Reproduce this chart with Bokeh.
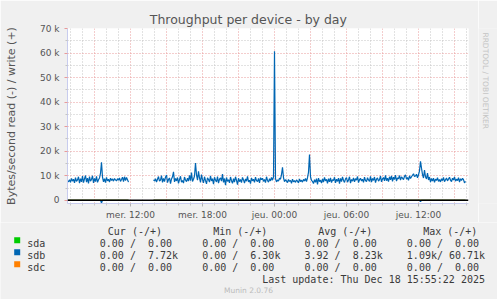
import math
from bokeh.plotting import figure
from bokeh.layouts import column, row
from bokeh.models import Range1d, FixedTicker, Span
from bokeh.core.properties import value
from bokeh.embed import file_html
from bokeh.resources import INLINE

# ---------------- data ----------------
title_text = "Throughput per device - by day"
y_label_text = "Bytes/second read (-) / write (+)"

x_tick_hours = [12, 18, 24, 30, 36]            # hours since Wed 00:00
x_tick_labels = ["mer. 12:00", "mer. 18:00", "jeu. 00:00", "jeu. 06:00", "jeu. 12:00"]
y_ticks = [0, 10, 20, 30, 40, 50, 60, 70]      # k bytes/s
y_tick_labels = ["0", "10 k", "20 k", "30 k", "40 k", "50 k", "60 k", "70 k"]

step_h = 5 / 60                 # 5-minute samples
seg_a_start = 6.75              # mer. 06:45
seg_b_start = 13 + 55 / 60      # mer. 13:55 (after a gap)

# sdb write, k bytes/s
sdb_write_a = [
    7.9, 7.6, 8.4, 7.3, 8.9, 7.8, 8.6, 7.1, 9.2, 7.7,
    8.3, 9.6, 7.0, 8.8, 7.5, 9.9, 7.2, 8.7, 10.1, 7.4,
    9.0, 6.9, 9.7, 7.8, 8.5, 10.0, 7.1, 8.9, 7.6, 9.8,
    7.3, 8.4, 9.1, 11.0, 15.5, 9.4, 7.5, 8.8, 7.2, 9.3,
    7.9, 8.6, 7.4, 9.0, 8.1, 8.7, 7.8, 8.9, 8.3, 7.9,
    8.8, 8.2, 9.1, 7.7, 8.5, 9.4, 7.6, 9.6, 8.0, 9.3,
    8.4, 7.4,
]
sdb_write_b = [
    8.3, 7.9, 8.8, 7.4, 8.6, 9.7, 7.8, 8.2, 10.1, 7.3,
    8.9, 7.6, 9.4, 10.3, 7.2, 8.5, 9.1, 6.8, 8.7, 9.6,
    11.6, 7.5, 8.9, 7.9, 9.3, 6.9, 8.4, 9.8, 7.4, 8.1,
    7.0, 9.5, 8.3, 7.6, 9.0, 7.8, 10.2, 8.0, 11.3, 7.7,
    8.6, 9.9, 15.2, 10.4, 8.2, 11.8, 9.1, 7.3, 10.5, 8.4,
    7.1, 9.6, 8.0, 6.7, 9.2, 8.5, 7.4, 10.0, 7.9, 8.8,
    6.6, 9.4, 8.2, 7.5, 9.7, 7.0, 8.6, 9.1, 7.8, 10.7,
    7.3, 8.9, 6.2, 9.3, 7.7, 8.4, 7.1, 9.5, 8.0, 6.9,
    8.8, 7.4, 9.6, 8.1, 6.4, 9.0, 7.6, 8.5, 7.2, 9.3,
    8.3, 7.0, 8.7, 7.8, 9.8, 7.5, 8.2, 6.8, 9.1, 7.9,
    8.6, 7.3, 9.4, 8.0, 7.6, 8.9, 7.1, 9.2, 8.4, 9.0,
    7.7, 8.5, 7.2, 9.6, 8.1, 7.4, 8.8, 7.9, 9.3, 8.2,
    9.5, 60.71, 8.8, 7.5, 8.3, 7.8, 9.0, 8.6, 10.5, 13.4,
    9.2, 7.6, 8.4, 7.9, 7.2, 8.5, 7.7, 8.1, 6.9, 8.6,
    7.5, 8.0, 7.3, 8.3, 7.8, 7.1, 8.7, 7.6, 8.2, 7.4,
    8.5, 7.9, 8.9, 7.6, 9.2, 11.4, 18.7, 9.6, 8.1, 7.7,
    6.8, 8.4, 7.3, 8.8, 6.5, 9.0, 7.6, 8.2, 7.0, 8.7,
    7.4, 9.3, 7.9, 8.5, 6.9, 8.8, 7.5, 9.1, 7.2, 8.4,
    8.0, 9.4, 7.1, 8.6, 7.7, 9.0, 6.8, 8.9, 7.6, 9.5,
    8.1, 7.3, 8.7, 9.2, 7.4, 8.3, 9.6, 7.0, 8.5, 7.8,
    9.1, 7.5, 8.8, 8.2, 9.7, 7.2, 8.4, 9.0, 7.9, 8.6,
    7.3, 9.4, 8.0, 7.6, 9.2, 8.3, 7.7, 9.8, 7.4, 8.9,
    8.1, 9.5, 7.2, 8.6, 9.1, 7.8, 8.4, 9.9, 7.5, 8.7,
    9.3, 7.9, 10.2, 8.0, 9.0, 7.6, 9.6, 8.3, 10.0, 7.7,
    9.4, 8.5, 10.3, 7.8, 9.1, 8.8, 10.1, 8.2, 9.5, 9.0,
    8.4, 9.8, 10.4, 8.6, 9.3, 8.1, 10.0, 8.9, 9.6, 10.2,
    10.8, 9.7, 9.9, 10.6, 9.2, 10.4, 12.0, 15.9, 13.1, 10.5,
    9.1, 12.3, 9.6, 8.7, 11.1, 8.3, 9.5, 7.4, 8.9, 7.8,
    9.0, 7.3, 8.6, 8.1, 9.2, 7.7, 8.5, 7.5, 8.8, 8.0,
    9.3, 7.6, 8.4, 9.1, 7.9, 8.7, 9.4, 8.2, 7.6, 9.0,
    8.3, 9.5, 7.8, 8.6, 8.0, 9.2, 7.4, 8.8, 8.1, 9.0,
    8.4, 7.1, 7.72,
]
# sdb read, k bytes/s (drawn below zero)
sdb_read_a = [0.0] * 34 + [1.09] + [0.0] * 27
sdb_read_b = [0.0] * 267 + [0.5] + [0.0] * 45
# sda / sdc: idle
sda_values_a = [0.0] * len(sdb_write_a)
sda_values_b = [0.0] * len(sdb_write_b)
sdc_values_a = [0.0] * len(sdb_write_a)
sdc_values_b = [0.0] * len(sdb_write_b)

legend_names = ["sda", "sdb", "sdc"]
legend_colors = ["#00CC00", "#0066B3", "#FF8000"]
legend_headers = ["Cur (-/+)", "Min (-/+)", "Avg (-/+)", "Max (-/+)"]
legend_rows = [
    "0.00 /  0.00     0.00 /  0.00     0.00 /  0.00     0.00 /  0.00",
    "0.00 /  7.72k    0.00 /  6.30k    3.92 /  8.23k    1.09k/ 60.71k",
    "0.00 /  0.00     0.00 /  0.00     0.00 /  0.00     0.00 /  0.00",
]
last_update = "Last update: Thu Dec 18 15:55:22 2025"
munin_version = "Munin 2.0.76"
rrd_credit = "RRDTOOL / TOBI OETIKER"

# ---------------- build series ----------------
nan = float("nan")
t_a = [seg_a_start + i * step_h for i in range(len(sdb_write_a))]
t_b = [seg_b_start + i * step_h for i in range(len(sdb_write_b))]
ts = t_a + [nan] + t_b
sdb_w = sdb_write_a + [nan] + sdb_write_b
sdb_r = [-v for v in sdb_read_a] + [nan] + [-v for v in sdb_read_b]
sda_v = sda_values_a + [nan] + sda_values_b
sdc_v = sdc_values_a + [nan] + sdc_values_b


def keep_spaces(s):
    # SVG collapses runs of spaces; non-breaking spaces keep the monospace columns
    return s.replace(" ", "\u00a0")


# ---------------- layout constants ----------------
W, H = 497, 299
MAIN_W, MAIN_H = 478, 222
FL, FT, FR, FB = 67, 28, 468, 203   # frame edges in canvas px
BG = "#F0F0F0"
AXC = "#C8CCEE"
GRIDMAJ = "#E89A9A"
GRIDMIN = "#C4C4C4"
TXT = "#555555"
LEG = "#3A3A3A"

# ---------------- main figure ----------------
p = figure(width=MAIN_W, height=MAIN_H, output_backend="svg", toolbar_location=None,
           x_range=Range1d(seg_a_start, seg_a_start + (FR - FL) / 12.0),
           y_range=Range1d(-1.3, 70))
p.min_border_left = FL
p.min_border_right = MAIN_W - FR
p.min_border_top = FT
p.min_border_bottom = MAIN_H - FB
p.border_fill_color = BG
p.background_fill_color = "#FFFFFF"
p.outline_line_color = None

p.title.text = title_text
p.title.align = "left"
p.title.offset = 149.3 - FL
p.title.text_font = "DejaVu Sans"
p.title.text_font_size = "12.5px"
p.title.text_font_style = "normal"
p.title.text_color = TXT
p.title.standoff = 3

# x axis
p.xaxis.ticker = FixedTicker(ticks=x_tick_hours,
                             minor_ticks=[h for h in range(7, 41) if h not in x_tick_hours])
p.xaxis.major_label_overrides = {h: l for h, l in zip(x_tick_hours, x_tick_labels)}
p.xaxis.axis_line_color = AXC
p.xaxis.major_tick_out = 3
p.xaxis.major_tick_in = 0
p.xaxis.minor_tick_out = 2
p.xaxis.minor_tick_in = 0
p.xaxis.major_tick_line_color = "#B0B0B0"
p.xaxis.minor_tick_line_color = "#C8C8C8"
p.xaxis.major_label_standoff = 3
p.xaxis.major_label_text_font = "DejaVu Sans"
p.xaxis.major_label_text_font_size = "9px"
p.xaxis.major_label_text_color = TXT

# y axis
p.yaxis.ticker = FixedTicker(ticks=y_ticks, minor_ticks=[5, 15, 25, 35, 45, 55, 65])
p.yaxis.major_label_overrides = {v: l for v, l in zip(y_ticks, y_tick_labels)}
p.yaxis.axis_line_color = AXC
p.yaxis.major_tick_out = 3
p.yaxis.major_tick_in = 0
p.yaxis.minor_tick_out = 2
p.yaxis.minor_tick_in = 0
p.yaxis.major_tick_line_color = GRIDMAJ
p.yaxis.minor_tick_line_color = GRIDMIN
p.yaxis.major_label_standoff = 5
p.yaxis.major_label_text_font = "DejaVu Sans"
p.yaxis.major_label_text_font_size = "9px"
p.yaxis.major_label_text_color = TXT
p.yaxis.axis_label = y_label_text
p.yaxis.axis_label_text_font = "DejaVu Sans"
p.yaxis.axis_label_text_font_size = "11px"
p.yaxis.axis_label_text_font_style = "normal"
p.yaxis.axis_label_text_color = TXT
p.yaxis.axis_label_standoff = 19

# grids
p.xgrid.ticker = FixedTicker(ticks=[9, 12, 15, 18, 21, 24, 27, 30, 33, 36, 39],
                             minor_ticks=[h for h in range(7, 41) if h % 3 != 0])
p.ygrid.ticker = FixedTicker(ticks=y_ticks, minor_ticks=[5, 15, 25, 35, 45, 55, 65])
for g in (p.xgrid, p.ygrid):
    g.grid_line_color = GRIDMAJ
    g.grid_line_dash = "1 2"
    g.grid_line_width = 1
    g.minor_grid_line_color = GRIDMIN
    g.minor_grid_line_dash = "1 2"
    g.minor_grid_line_width = 1

# series
p.line(ts, sda_v, line_color=legend_colors[0], line_width=1.2)
p.line(ts, sdb_w, line_color=legend_colors[1], line_width=1.2)
p.line(ts, sdb_r, line_color=legend_colors[1], line_width=1.2)
p.line(ts, sdc_v, line_color=legend_colors[2], line_width=1.2)
p.add_layout(Span(location=0, dimension="width", line_color="#000000", line_width=1.6))

# ---------------- right strip (credit) ----------------
SIDE_W = W - MAIN_W
ps = figure(width=SIDE_W, height=MAIN_H, output_backend="svg", toolbar_location=None,
            x_range=Range1d(MAIN_W, W), y_range=Range1d(MAIN_H, 0),
            x_axis_type=None, y_axis_type=None, min_border=0)
ps.grid.visible = False
ps.border_fill_color = BG
ps.background_fill_color = BG
ps.outline_line_color = None
ps.text(x=[485], y=[5], text=[rrd_credit], angle=-math.pi / 2,
        text_font=value("DejaVu Sans"), text_font_size="7.5px", text_color="#C4C4C4",
        text_align="left", text_baseline="alphabetic")

# ---------------- legend block ----------------
LEG_H = H - MAIN_H
pl = figure(width=W, height=LEG_H, output_backend="svg", toolbar_location=None,
            x_range=Range1d(0, W), y_range=Range1d(H, MAIN_H),
            x_axis_type=None, y_axis_type=None, min_border=0)
pl.grid.visible = False
pl.border_fill_color = BG
pl.background_fill_color = BG
pl.outline_line_color = None

MONO = value("DejaVu Sans Mono")
pl.text(x=[107.3, 212.7, 317.7, 422.7], y=[231] * 4,
        text=[keep_spaces(h) for h in legend_headers],
        text_font=MONO, text_font_size="10px", text_color=LEG, text_baseline="alphabetic")
row_y = [243, 255, 267]
pl.scatter(x=[16.7] * 3, y=[yy - 3.2 for yy in row_y], marker="square", size=6,
           fill_color=legend_colors, line_color=None)
pl.text(x=[26.7] * 3, y=row_y, text=legend_names,
        text_font=MONO, text_font_size="10px", text_color=LEG, text_baseline="alphabetic")
pl.text(x=[99.3] * 3, y=row_y, text=[keep_spaces(r) for r in legend_rows],
        text_font=MONO, text_font_size="10px", text_color=LEG, text_baseline="alphabetic")
pl.text(x=[261.7], y=[279], text=[keep_spaces(last_update)],
        text_font=MONO, text_font_size="10px", text_color=LEG, text_baseline="alphabetic")
pl.text(x=[248], y=[290], text=[munin_version],
        text_font=value("DejaVu Sans"), text_font_size="7.5px", text_color="#BBBBBB",
        text_align="center", text_baseline="alphabetic")

layout = column(row(p, ps, spacing=0), pl, spacing=0)
open("out.html", "w").write(file_html(layout, INLINE))
